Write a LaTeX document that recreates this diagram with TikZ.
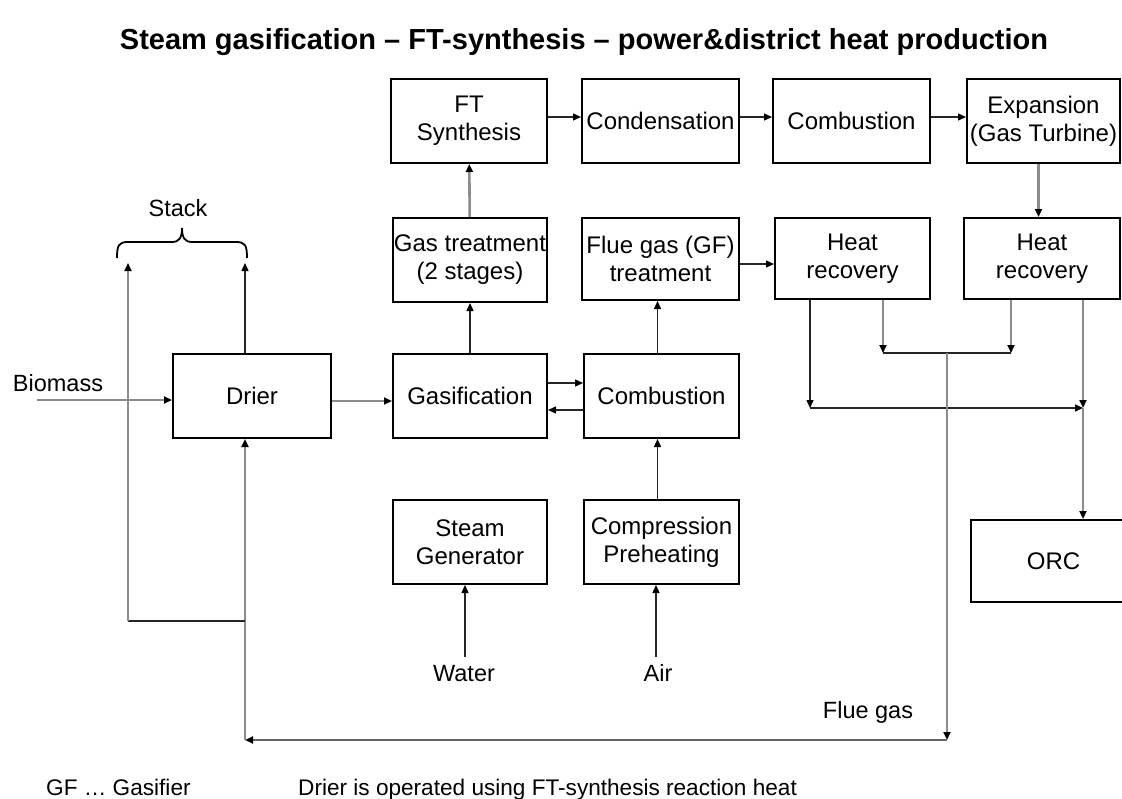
\documentclass[tikz,border=0pt]{standalone}
\usepackage{fontspec}
\setmainfont{Liberation Sans}
\usetikzlibrary{arrows.meta}
\begin{document}
\begin{tikzpicture}[x=1pt,y=-1pt,
  box/.style={draw=black, line width=2pt, rectangle, anchor=north west, align=center, inner sep=0pt, font=\fontsize{24}{28}\selectfont},
  blk/.style={line width=1.4pt, draw=black!85},
  gry/.style={line width=2.6pt, draw=black!45},
  tipA/.style={-{Triangle[length=8pt,width=7pt,color=black]}},
  lbl/.style={font=\fontsize{23.5}{28}\selectfont, inner sep=0pt, anchor=base},
  note/.style={font=\fontsize{22.6}{27}\selectfont, inner sep=0pt, anchor=base west}]
\useasboundingbox (0,0) rectangle (1122,798);

% title
\node[font=\bfseries\fontsize{29}{34}\selectfont, inner sep=0pt] (title) at (584,42) {Steam gasification – FT-synthesis – power\&district heat production};

% boxes
\node[box, minimum width=156pt, minimum height=84pt] (ft) at (390,78) {FT\\Synthesis};
\node[box, minimum width=157pt, minimum height=84pt] (cond) at (581,78) {Condensation};
\node[box, minimum width=157pt, minimum height=84pt] (comb1) at (772,78) {Combustion};
\node[box, minimum width=153pt, minimum height=84pt] (exp) at (966,78) {Expansion\\(Gas Turbine)};
\node[box, minimum width=154pt, minimum height=84pt] (gt) at (392,217) {Gas treatment\\(2 stages)};
\node[box, minimum width=157pt, minimum height=82pt] (fgt) at (581,217) {Flue gas (GF)\\treatment};
\node[box, minimum width=155pt, minimum height=81pt] (hr1) at (774,217) {Heat\\recovery};
\node[box, minimum width=156pt, minimum height=81pt] (hr2) at (963,217) {Heat\\recovery};
\node[box, minimum width=158pt, minimum height=84pt] (drier) at (172,353) {Drier};
\node[box, minimum width=154pt, minimum height=84pt] (gasif) at (392,353) {Gasification};
\node[box, minimum width=155pt, minimum height=84pt] (comb2) at (583,353) {Combustion};
\node[box, minimum width=154pt, minimum height=84pt] (sg) at (392,499) {Steam\\Generator};
\node[box, minimum width=155pt, minimum height=84pt] (cp) at (583,499) {Compression\\Preheating};
\node[box, minimum width=165pt, minimum height=82pt, text width=150pt] (orc) at (970,519) {ORC};

% labels
\node[lbl] (stack) at (178,216) {Stack};
\node[lbl] (biomass) at (58,391) {Biomass};
\node[lbl] (water) at (464,681) {Water};
\node[lbl] (air) at (658,681) {Air};
\node[lbl] (fglbl) at (868,718) {Flue gas};
\node[note] (gfnote) at (46,795) {GF … Gasifier};
\node[note] (drnote) at (298,795) {Drier is operated using FT-synthesis reaction heat};

% free-end coordinates
\coordinate (bioS) at (37,400);
\coordinate (stackL) at (128,263);
\coordinate (stackR) at (245,263);
\coordinate (jL) at (245,621);
\coordinate (cL) at (128,621);
\coordinate (fgL) at (245,740);
\coordinate (fgR) at (947,740);
\coordinate (jm) at (947,353);
\coordinate (b1) at (883,353);
\coordinate (b2) at (1011,353);
\coordinate (a1) at (810,408);
\coordinate (a2) at (1083,408);
\coordinate (waterS) at (465,657);
\coordinate (airS) at (656,657);

% brace
\draw[line width=1.8pt] (117,258) .. controls (117,245) and (119,242) .. (128,242) -- (172,242)
  .. controls (179,242) and (182,238) .. (182,228) .. controls (182,238) and (185,242) .. (192,242)
  -- (236,242) .. controls (245,242) and (247,245) .. (247,258);

% connectors
\draw[gry, tipA] (bioS) -- (bioS -| drier.west);
\draw[gry, tipA] ([yshift=-5pt]drier.east) -- ([yshift=-5pt]gasif.west);
\draw[blk, tipA] ([yshift=13pt]gasif.east) -- ([yshift=13pt]comb2.west);
\draw[blk, tipA] ([yshift=-14pt]comb2.west) -- ([yshift=-14pt]gasif.east);
\draw[blk, tipA] (gasif) -- (gt);
\draw[gry, tipA] (gt) -- (ft);
\draw[blk, tipA] ([yshift=4pt]ft.east) -- ([yshift=4pt]cond.west);
\draw[blk, tipA] ([yshift=4pt]cond.east) -- ([yshift=4pt]comb1.west);
\draw[blk, tipA] ([yshift=4pt]comb1.east) -- ([yshift=4pt]exp.west);
\draw[gry, tipA] ([xshift=-5pt]exp.south) -- ([xshift=-5pt]exp.south |- hr2.north);
\draw[blk, tipA] ([xshift=-4pt]comb2.north) -- ([xshift=-4pt]comb2.north |- fgt.south);
\draw[blk, tipA] ([yshift=-5pt]fgt.east) -- ([yshift=-5pt]fgt.east -| hr1.west);
\draw[blk, tipA] (waterS) -- (waterS |- sg.south);
\draw[blk, tipA] (airS) -- (airS |- cp.south);
\draw[blk, tipA] ([xshift=-4pt]cp.north) -- ([xshift=-4pt]comb2.south);

% heat recovery outputs
\draw[blk, tipA] (a1 |- hr1.south) -- (a1);
\draw[blk, tipA] (a1) -- (a2);
\draw[gry, tipA] (a2 |- hr2.south) -- (a2);
\draw[gry, tipA] (a2) -- (a2 |- orc.north);
\draw[gry, line width=1.8pt, tipA] (b1 |- hr1.south) -- (b1);
\draw[gry, line width=1.8pt, tipA] (b2 |- hr2.south) -- (b2);
\draw[blk] (b1) -- (b2);

% flue gas loop
\draw[gry, tipA] (jm) -- (fgR);
\draw[line width=2.2pt, draw=black!60, tipA] (fgR) -- (fgL);
\draw[gry, tipA] (fgL) -- (fgL |- drier.south);

% stack
\draw[blk, tipA] (stackR |- drier.north) -- (stackR);
\draw[blk] (jL) -- (cL);
\draw[gry, line width=1.8pt, tipA] (cL) -- (stackL);
\end{tikzpicture}
\end{document}
